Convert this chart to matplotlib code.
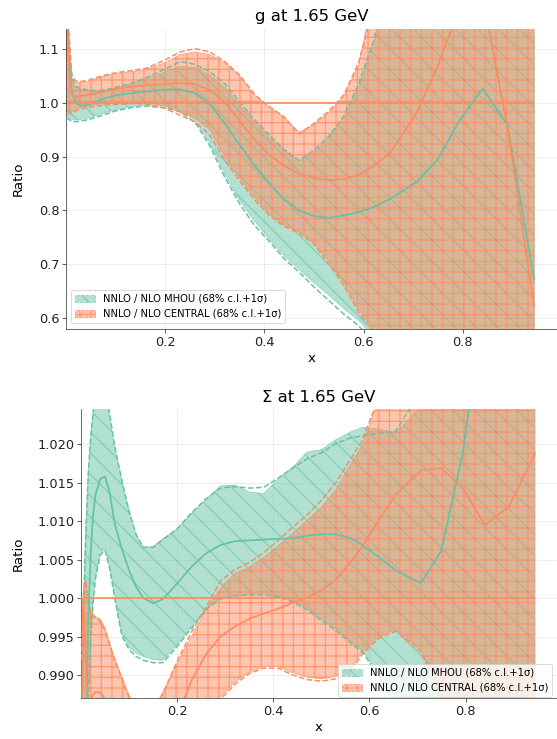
import matplotlib
matplotlib.use("Agg")
import matplotlib.pyplot as plt
from matplotlib.colors import to_rgba
from matplotlib.patches import Patch

TEAL = "#66c2a5"
ORANGE = "#fc8d62"
LABELS = ["NNLO / NLO MHOU (68% c.l.+1σ)", "NNLO / NLO CENTRAL (68% c.l.+1σ)"]

# gluon ratio, x grid
X_G = [0.001, 0.006, 0.012, 0.02, 0.03, 0.045, 0.06, 0.08, 0.1, 0.13, 0.16,
       0.2, 0.23, 0.26, 0.29, 0.32, 0.35, 0.38, 0.41, 0.44, 0.47, 0.5, 0.53,
       0.56, 0.59, 0.62, 0.655, 0.707, 0.749, 0.794, 0.84, 0.89, 0.944]

G_MHOU_CV = [1.20, 1.08, 1.02, 1.0, 0.995, 0.996, 1.002, 1.009, 1.014, 1.018, 1.021,
             1.025, 1.025, 1.018, 0.998, 0.962, 0.922, 0.884, 0.85, 0.82, 0.80, 0.789, 0.786,
             0.790, 0.797, 0.806, 0.822, 0.853, 0.894, 0.968, 1.027, 0.959, 0.671]
G_MHOU_HI = [1.30, 1.10, 1.04, 1.028, 1.025, 1.022, 1.022, 1.023, 1.028, 1.035, 1.044,
             1.058, 1.068, 1.066, 1.052, 1.030, 0.997, 0.965, 0.936, 0.912, 0.892, 0.908, 0.935,
             0.972, 1.03, 1.11, 1.25, 1.4, 1.5, 1.5, 1.5, 1.5, 1.125]
G_MHOU_LO = [0.975, 0.972, 0.969, 0.968, 0.969, 0.972, 0.976, 0.982, 0.987, 0.993, 0.996,
             0.994, 0.987, 0.968, 0.925, 0.868, 0.818, 0.78, 0.746, 0.715, 0.69, 0.665, 0.642,
             0.617, 0.595, 0.565, 0.52, 0.45, 0.45, 0.45, 0.45, 0.45, 0.45]
G_MHOU_HI1 = [1.35, 1.11, 1.045, 1.03, 1.027, 1.024, 1.023, 1.024, 1.029, 1.036, 1.046,
              1.063, 1.077, 1.072, 1.058, 1.036, 1.002, 0.969, 0.94, 0.913, 0.893, 0.912, 0.938,
              0.975, 1.035, 1.115, 1.25, 1.4, 1.5, 1.5, 1.5, 1.5, 1.5]
G_MHOU_LO1 = [0.972, 0.969, 0.966, 0.965, 0.966, 0.969, 0.973, 0.979, 0.985, 0.991, 0.994,
              0.991, 0.984, 0.964, 0.92, 0.862, 0.812, 0.772, 0.742, 0.71, 0.685, 0.657, 0.632,
              0.607, 0.585, 0.555, 0.51, 0.45, 0.45, 0.45, 0.45, 0.45, 0.45]

G_CEN_CV = [1.25, 1.06, 1.015, 1.012, 1.013, 1.015, 1.018, 1.022, 1.026, 1.030, 1.033,
            1.035, 1.037, 1.035, 1.024, 1.003, 0.966, 0.932, 0.903, 0.883, 0.868, 0.860, 0.856,
            0.858, 0.866, 0.882, 0.908, 0.982, 1.068, 1.18, 1.20, 0.956, 0.621]
G_CEN_HI = [1.40, 1.12, 1.045, 1.038, 1.038, 1.04, 1.045, 1.05, 1.054, 1.058, 1.062,
            1.075, 1.09, 1.095, 1.09, 1.075, 1.05, 1.014, 0.992, 0.973, 0.945, 0.96, 0.982,
            1.012, 1.07, 1.2, 1.4, 1.6, 1.6, 1.6, 1.6, 1.6, 1.6]
G_CEN_LO = [0.985, 0.983, 0.984, 0.988, 0.992, 0.995, 0.997, 0.999, 1.0, 1.002, 1.001,
            0.994, 0.982, 0.972, 0.95, 0.9, 0.86, 0.825, 0.793, 0.772, 0.76, 0.74, 0.705,
            0.665, 0.615, 0.578, 0.52, 0.45, 0.45, 0.45, 0.45, 0.45, 0.45]
G_CEN_HI1 = [1.45, 1.13, 1.048, 1.041, 1.04, 1.042, 1.047, 1.052, 1.056, 1.06, 1.064,
             1.08, 1.095, 1.101, 1.095, 1.077, 1.052, 1.016, 0.993, 0.974, 0.942, 0.962, 0.985,
             1.015, 1.075, 1.18, 1.4, 1.6, 1.6, 1.6, 1.6, 1.6, 1.6]
G_CEN_LO1 = [0.982, 0.98, 0.981, 0.985, 0.989, 0.992, 0.994, 0.996, 0.997, 0.999, 0.998,
             0.99, 0.977, 0.965, 0.94, 0.893, 0.855, 0.82, 0.79, 0.77, 0.757, 0.737, 0.7,
             0.66, 0.61, 0.572, 0.51, 0.45, 0.45, 0.45, 0.45, 0.45, 0.45]

# singlet ratio
X_S = [0.001, 0.005, 0.01, 0.015, 0.02, 0.025, 0.03, 0.04, 0.05, 0.06, 0.07, 0.085,
       0.1, 0.115, 0.13, 0.15, 0.17, 0.2, 0.23, 0.26, 0.29, 0.32, 0.35, 0.38, 0.41,
       0.44, 0.47, 0.5, 0.53, 0.56, 0.585, 0.62, 0.655, 0.707, 0.749, 0.794, 0.84,
       0.89, 0.944]

S_MHOU_CV = [0.955, 0.97, 0.9826, 0.9969, 1.0054, 1.0107, 1.0134, 1.0155, 1.0158, 1.0136,
             1.0097, 1.0064, 1.0036, 1.0014, 1.0, 0.99935, 0.99985, 1.0019, 1.0041, 1.0058,
             1.0069, 1.0074, 1.0075, 1.0076, 1.0077, 1.0078, 1.0081, 1.0083, 1.0083, 1.0078,
             1.0069, 1.0053, 1.0036, 1.00195, 1.0061, 1.0188, 1.04, 1.06, 1.07]
S_MHOU_HI = [0.97, 1.0, 1.0093, 1.016, 1.0208, 1.0242, 1.026, 1.028, 1.027, 1.0235,
             1.0196, 1.0152, 1.0113, 1.0081, 1.0066, 1.0067, 1.0077, 1.009, 1.011, 1.0128,
             1.0146, 1.0147, 1.0138, 1.0136, 1.0155, 1.017, 1.019, 1.0193, 1.0206, 1.0216,
             1.0222, 1.022, 1.0215, 1.025, 1.035, 1.04, 1.04, 1.04, 1.04]
S_MHOU_LO = [0.95, 0.96, 0.975, 0.9868, 0.9945, 0.9995, 1.0027, 1.0058, 1.0064, 1.004,
             1.0003, 0.9954, 0.9936, 0.9928, 0.9924, 0.992, 0.9919, 0.9939, 0.9963, 0.9986,
             1.0, 1.0003, 1.0005, 1.0005, 1.0003, 0.9996, 0.9986, 0.9973, 0.996, 0.9944,
             0.9932, 0.99, 0.986, 0.98, 0.975, 0.975, 0.975, 0.975, 0.975]
S_MHOU_HI1 = [0.975, 0.998, 1.008, 1.016, 1.0208, 1.024, 1.0265, 1.0285, 1.0275, 1.0238,
              1.0198, 1.0153, 1.0113, 1.0082, 1.0066, 1.0066, 1.0076, 1.009, 1.0111, 1.0129,
              1.0143, 1.0145, 1.0143, 1.0144, 1.0156, 1.0169, 1.0181, 1.0189, 1.0201, 1.0208,
              1.0211, 1.0214, 1.0217, 1.027, 1.035, 1.04, 1.04, 1.04, 1.04]
S_MHOU_LO1 = [0.948, 0.958, 0.973, 0.9863, 0.9942, 0.9993, 1.0025, 1.0056, 1.0062, 1.0038,
              1.0, 0.9951, 0.9933, 0.9924, 0.9919, 0.9916, 0.9916, 0.9937, 0.9961, 0.9985,
              0.9999, 1.0003, 1.0004, 1.0004, 1.0002, 0.9995, 0.9985, 0.9971, 0.9958, 0.9942,
              0.993, 0.9898, 0.9858, 0.98, 0.975, 0.975, 0.975, 0.975, 0.975]

S_CEN_CV = [0.982, 1.0, 0.992, 0.985, 0.9866, 0.9874, 0.9878, 0.9877, 0.9869, 0.986,
            0.985, 0.983, 0.981, 0.98, 0.979, 0.979, 0.98, 0.9845, 0.9893, 0.9927, 0.995,
            0.9963, 0.9973, 0.998, 0.9986, 0.9994, 1.0001, 1.001, 1.0024, 1.0046, 1.0067,
            1.0102, 1.0135, 1.0166, 1.0169, 1.0143, 1.0095, 1.0119, 1.0188]
S_CEN_HI = [0.993, 1.001, 1.0025, 0.9998, 0.9985, 0.9979, 0.9976, 0.9973, 0.9961, 0.9941,
            0.9922, 0.9898, 0.9874, 0.9855, 0.985, 0.9857, 0.9877, 0.9916, 0.995, 0.9985,
            1.0013, 1.0032, 1.004, 1.0053, 1.0068, 1.0084, 1.0101, 1.0118, 1.0141, 1.0173,
            1.0199, 1.026, 1.032, 1.04, 1.045, 1.05, 1.05, 1.05, 1.05]
S_CEN_LO = [0.975, 0.975, 0.975, 0.975, 0.975, 0.975, 0.975, 0.975, 0.975, 0.975,
            0.975, 0.975, 0.975, 0.975, 0.975, 0.975, 0.975, 0.976, 0.978, 0.983, 0.9871,
            0.9891, 0.9904, 0.9911, 0.9911, 0.9903, 0.9897, 0.9895, 0.9898, 0.9907, 0.993,
            0.995, 0.9959, 0.9932, 0.9872, 0.98, 0.975, 0.975, 0.975]
S_CEN_HI1 = [0.992, 1.0005, 1.0022, 0.9995, 0.9982, 0.9977, 0.9974, 0.997, 0.9958, 0.9938,
             0.9919, 0.9895, 0.9871, 0.9851, 0.9846, 0.9853, 0.9875, 0.9918, 0.9956, 0.9988,
             1.0022, 1.0037, 1.0046, 1.0059, 1.0075, 1.0092, 1.0108, 1.0127, 1.015, 1.018,
             1.0205, 1.0262, 1.032, 1.04, 1.045, 1.05, 1.05, 1.05, 1.05]
S_CEN_LO1 = [0.975, 0.975, 0.975, 0.975, 0.975, 0.975, 0.975, 0.975, 0.975, 0.975,
             0.975, 0.975, 0.975, 0.975, 0.975, 0.975, 0.975, 0.976, 0.978, 0.983, 0.9868,
             0.9888, 0.9902, 0.9909, 0.9909, 0.99, 0.9894, 0.9892, 0.9895, 0.9904, 0.9927,
             0.9948, 0.9957, 0.993, 0.987, 0.98, 0.975, 0.975, 0.975]

plt.rcParams["hatch.linewidth"] = 1.4


def draw_pdf(ax, x, cv, lo, hi, lo1, hi1, color, hatch, edge_alpha):
    ax.fill_between(x, lo, hi, facecolor=to_rgba(color, 0.5),
                    edgecolor=to_rgba(color, edge_alpha), lw=0.8, hatch=hatch, zorder=2)
    ax.plot(x, hi1, ls="--", color=color, lw=1.7, zorder=3)
    ax.plot(x, lo1, ls="--", color=color, lw=1.7, zorder=3)
    ax.plot(x, cv, color=color, lw=2.0, zorder=4)


def style_axes(ax, title, ylim, pad):
    ax.set_xlim(0.0, 0.99)
    ax.set_ylim(*ylim)
    ax.set_xticks([0.2, 0.4, 0.6, 0.8])
    ax.grid(True, color="#ebebeb", lw=1.0)
    ax.set_axisbelow(True)
    for side in ["top", "right"]:
        ax.spines[side].set_visible(False)
    ax.spines["left"].set_color("#333333")
    ax.spines["bottom"].set_color("#333333")
    ax.tick_params(labelsize=14.5, colors="#222222", length=4)
    ax.set_xlabel("x", fontsize=15)
    ax.set_ylabel("Ratio", fontsize=15)
    ax.set_title(title, fontsize=18.5, pad=pad)


fig = plt.figure(figsize=(557 / 64, 739 / 64), dpi=64)
ax1 = fig.add_axes([0.1185, 0.5548, 0.8815, 0.4055])
ax2 = fig.add_axes([0.1454, 0.0555, 0.8546, 0.3907])

# top: gluon
draw_pdf(ax1, X_G, G_MHOU_CV, G_MHOU_LO, G_MHOU_HI, G_MHOU_LO1, G_MHOU_HI1, TEAL, "\\", 0.6)
draw_pdf(ax1, X_G, G_CEN_CV, G_CEN_LO, G_CEN_HI, G_CEN_LO1, G_CEN_HI1, ORANGE, "+", 0.8)
ax1.hlines(1.0, X_G[0], X_G[-1], color=ORANGE, lw=2.0, zorder=4)
style_axes(ax1, "g at 1.65 GeV", (0.579, 1.137), 9.5)
ax1.yaxis.set_label_coords(-0.085, 0.5)

# bottom: singlet
draw_pdf(ax2, X_S, S_MHOU_CV, S_MHOU_LO, S_MHOU_HI, S_MHOU_LO1, S_MHOU_HI1, TEAL, "\\", 0.6)
draw_pdf(ax2, X_S, S_CEN_CV, S_CEN_LO, S_CEN_HI, S_CEN_LO1, S_CEN_HI1, ORANGE, "+", 0.8)
ax2.hlines(1.0, X_S[0], X_S[-1], color=ORANGE, lw=2.0, zorder=4)
style_axes(ax2, "Σ at 1.65 GeV", (0.98701, 1.02455), 8.5)
ax2.yaxis.set_label_coords(-0.118, 0.5)

handles = [Patch(facecolor=to_rgba(TEAL, 0.5), edgecolor=to_rgba(TEAL, 0.6),
                 hatch="\\", linestyle="--"),
           Patch(facecolor=to_rgba(ORANGE, 0.5), edgecolor=to_rgba(ORANGE, 0.8),
                 hatch="+", linestyle="--")]
ax1.legend(handles, LABELS, loc="lower left", bbox_to_anchor=(0.01, 0.02),
           borderaxespad=0, fontsize=11.3)
ax2.legend(handles, LABELS, loc="lower right", bbox_to_anchor=(0.99, 0.004),
           borderaxespad=0, fontsize=11.3)

fig.savefig("out.png", dpi=64)
